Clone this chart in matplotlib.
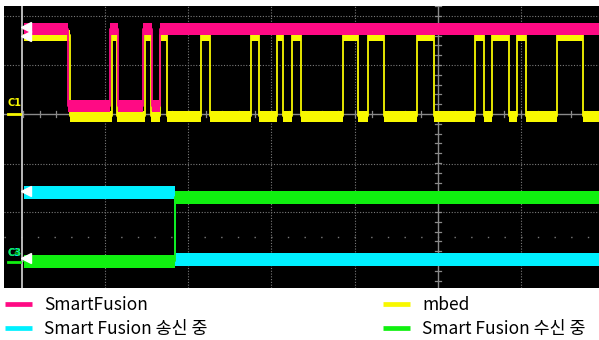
import matplotlib
matplotlib.use('Agg')
import matplotlib.pyplot as plt
from matplotlib.lines import Line2D

plt.rcParams['font.family'] = ['Noto Sans CJK KR', 'DejaVu Sans']

# ---- data (screen time units / screen amplitude units) ----
t_end = 599
sf_edges = [24, 68, 110, 118, 143, 152, 160]
sf_states = [1, 0, 1, 0, 1, 0, 1]
mbed_edges = [24, 70, 112, 117, 145, 151, 160, 167, 201, 210, 251, 259, 277, 283,
              292, 301, 343, 358, 368, 384, 417, 434, 475, 484, 492, 509, 517, 526,
              557, 583]
mbed_states = [1, 0] * 15
tx_edges = [24, 175]
tx_states = [1, 0]
rx_edges = [24, 175]
rx_states = [0, 1]

sf_levels = (182, 259)
mbed_levels = (172, 253)
tx_levels = (29, 96)
rx_levels = (27, 91)

labels = ['SmartFusion', 'Smart Fusion 송신 중', 'mbed', 'Smart Fusion 수신 중']
colors = {'sf': '#ff0a84', 'mbed': '#f8f800', 'tx': '#00f0ff', 'rx': '#10f010'}

W, H = 599, 340
fig = plt.figure(figsize=(W / 100, H / 100), dpi=100)
fig.patch.set_facecolor('white')
ax = fig.add_axes([4 / W, (H - 288) / H, 595 / W, 282 / H])
ax.set_facecolor('black')
ax.set_xlim(4, 599)
ax.set_ylim(0, 282)
for s in ax.spines.values():
    s.set_visible(False)
ax.set_xticks([])
ax.set_yticks([])

# ---- graticule ----
grid_c = '#7a7a7a'
for gx in [105, 188, 271, 355, 521]:
    ax.axvline(gx, color=grid_c, lw=0.8, ls=(0, (1, 1.5)), zorder=0)
for gy in [272, 223, 124, 76]:
    ax.axhline(gy, color=grid_c, lw=0.8, ls=(0, (1, 1.5)), zorder=0)
ax.axhline(51, color=grid_c, lw=1.0, ls=(0, (1, 11)), zorder=0)
ax.axvline(438, color='#8a8a8a', lw=1.0, zorder=0)
ax.axhline(174, color='#8a8a8a', lw=1.0, zorder=0)
ax.axvline(22, color='#c8c8c8', lw=1.3, zorder=5)
# minor ticks on centre axes
for k in range(-40, 40):
    ty = 174 + k * 9.8
    if 0 < ty < 282:
        ax.plot([435, 441], [ty, ty], color='#8a8a8a', lw=0.9, zorder=0)
    tx = 438 + k * 16.6
    if 22 < tx < 599:
        ax.plot([tx, tx], [171, 177], color='#8a8a8a', lw=0.9, zorder=0)


def draw(edges, states, levels, hw, color, z):
    xs = list(edges) + [t_end]
    ys = [levels[s] for s in states] + [levels[states[-1]]]
    lo = [v - hw for v in ys]
    hi = [v + hw for v in ys]
    ax.fill_between(xs, lo, hi, step='post', color=color, lw=0, zorder=z)
    ax.step(xs, ys, where='post', color=color, lw=1.3, zorder=z)


draw(mbed_edges, mbed_states, mbed_levels, 5.5, colors['mbed'], 2)
draw(sf_edges, sf_states, sf_levels, 6, colors['sf'], 3)
draw(tx_edges, tx_states, tx_levels, 6.5, colors['tx'], 2)
draw(rx_edges, rx_states, rx_levels, 6.5, colors['rx'], 3)

# channel markers
for my in [261, 252, 97, 30]:
    ax.plot(26, my, marker='<', ms=7, color='white', mec='white', zorder=6)
ax.text(8, 180, 'C1', color=colors['mbed'], fontsize=7, fontweight='bold',
        family='DejaVu Sans', va='bottom', ha='left', zorder=6)
ax.plot([8, 20], [174, 174], color=colors['mbed'], lw=2, zorder=6)
ax.text(8, 30, 'C3', color=colors['tx'], fontsize=7, fontweight='bold',
        family='DejaVu Sans', va='bottom', ha='left', zorder=6)
ax.text(8, 30, 'C4', color=colors['rx'], fontsize=7, fontweight='bold',
        family='DejaVu Sans', va='bottom', ha='left', zorder=6, alpha=0.7)
ax.plot([8, 20], [26, 26], color=colors['rx'], lw=2, zorder=6)

# ---- legend ----
def handle(c):
    return Line2D([], [], color=c, lw=3.4, solid_capstyle='butt')

leg_kw = dict(frameon=False, fontsize=12.5, handlelength=1.55, handletextpad=0.7,
              labelspacing=0.33, borderaxespad=0, borderpad=0, loc='upper left')
fig.legend([handle(colors['sf']), handle(colors['tx'])], labels[:2],
           bbox_to_anchor=(5 / W, 1 - 296 / H), **leg_kw)
fig.legend([handle(colors['mbed']), handle(colors['rx'])], labels[2:],
           bbox_to_anchor=(383 / W, 1 - 296 / H), **leg_kw)

fig.savefig('out.png', dpi=100, facecolor='white')
